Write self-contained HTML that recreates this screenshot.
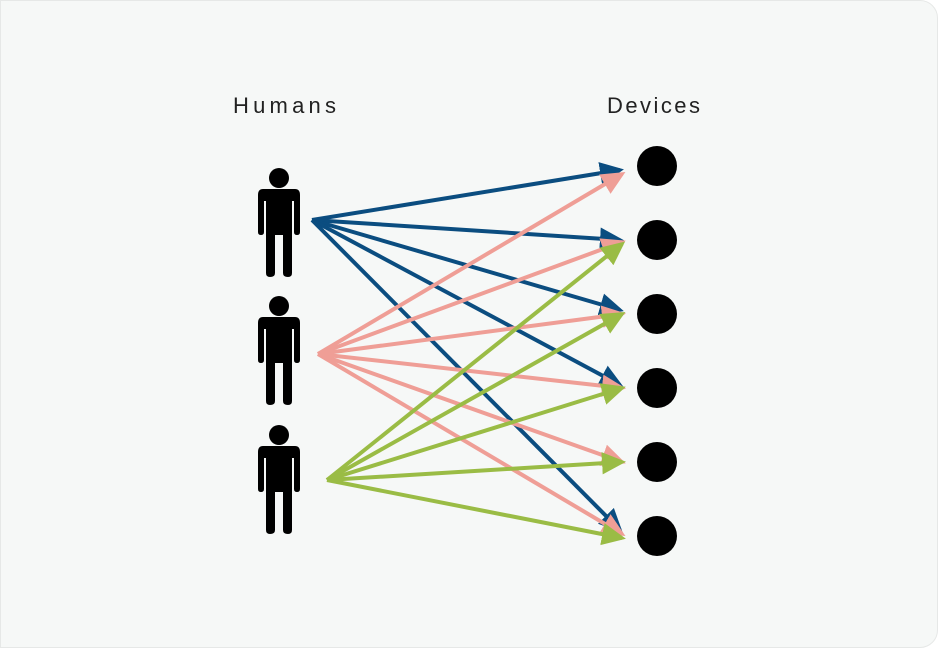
<!DOCTYPE html>
<html><head><style>
html,body{margin:0;padding:0;background:#fff;}
.card{position:absolute;left:0;top:0;width:936px;height:646px;background:#f6f8f7;border:1px solid #e6e8e7;border-radius:0 18px 18px 0;}
svg{position:absolute;left:0;top:0}
</style></head><body>
<div class="card"></div>
<svg width="938" height="648" viewBox="0 0 938 648">
<defs>
<marker id="b" markerWidth="6" markerHeight="6" refX="5" refY="3" orient="auto" markerUnits="strokeWidth"><path d="M0,0.2 L6,3 L0,5.8 Z" fill="#0b4d80"/></marker>
<marker id="p" markerWidth="6" markerHeight="6" refX="5" refY="3" orient="auto" markerUnits="strokeWidth"><path d="M0,0.2 L6,3 L0,5.8 Z" fill="#ef9e96"/></marker>
<marker id="g" markerWidth="6" markerHeight="6" refX="5" refY="3" orient="auto" markerUnits="strokeWidth"><path d="M0,0.2 L6,3 L0,5.8 Z" fill="#9abc45"/></marker>
<g id="man" fill="#000">
<circle cx="279" cy="178" r="10"/>
<path d="M263,189 H295 Q300,189 300,195 V232 Q300,235 297,235 Q294,235 294,232 V201 H292 V273 Q292,277 288,277 Q283,277 283,273 V235 H275 V273 Q275,277 270,277 Q266,277 266,273 V201 H264 V232 Q264,235 261,235 Q258,235 258,232 V195 Q258,189 263,189 Z"/>
</g>
</defs>
<text x="233" y="113" font-family="Liberation Sans, sans-serif" font-size="22" fill="#222" textLength="103" lengthAdjust="spacing">Humans</text>
<text x="607" y="113" font-family="Liberation Sans, sans-serif" font-size="22" fill="#222" textLength="93" lengthAdjust="spacing">Devices</text>
<use href="#man"/>
<use href="#man" y="128"/>
<use href="#man" y="257"/>
<g fill="#000">
<circle cx="657" cy="166" r="20"/><circle cx="657" cy="240" r="20"/><circle cx="657" cy="314" r="20"/>
<circle cx="657" cy="388" r="20"/><circle cx="657" cy="462" r="20"/><circle cx="657" cy="536" r="20"/>
</g>
<g stroke="#0b4d80" stroke-width="4" fill="none" marker-end="url(#b)">
<line x1="312" y1="220" x2="620" y2="170"/>
<line x1="312" y1="220" x2="620" y2="240"/>
<line x1="312" y1="220" x2="620" y2="310"/>
<line x1="312" y1="220" x2="620" y2="385"/>
<line x1="312" y1="220" x2="620" y2="530"/>
</g>
<g stroke="#ef9e96" stroke-width="4" fill="none" marker-end="url(#p)">
<line x1="318" y1="354" x2="622" y2="174"/>
<line x1="318" y1="354" x2="622" y2="242"/>
<line x1="318" y1="354" x2="622" y2="314"/>
<line x1="318" y1="354" x2="622" y2="388"/>
<line x1="318" y1="354" x2="622" y2="462"/>
<line x1="318" y1="354" x2="622" y2="534"/>
</g>
<g stroke="#9abc45" stroke-width="4" fill="none" marker-end="url(#g)">
<line x1="327" y1="480" x2="622" y2="244"/>
<line x1="327" y1="480" x2="622" y2="314"/>
<line x1="327" y1="480" x2="622" y2="388"/>
<line x1="327" y1="480" x2="622" y2="462"/>
<line x1="327" y1="480" x2="622" y2="538"/>
</g>
</svg>
</body></html>
